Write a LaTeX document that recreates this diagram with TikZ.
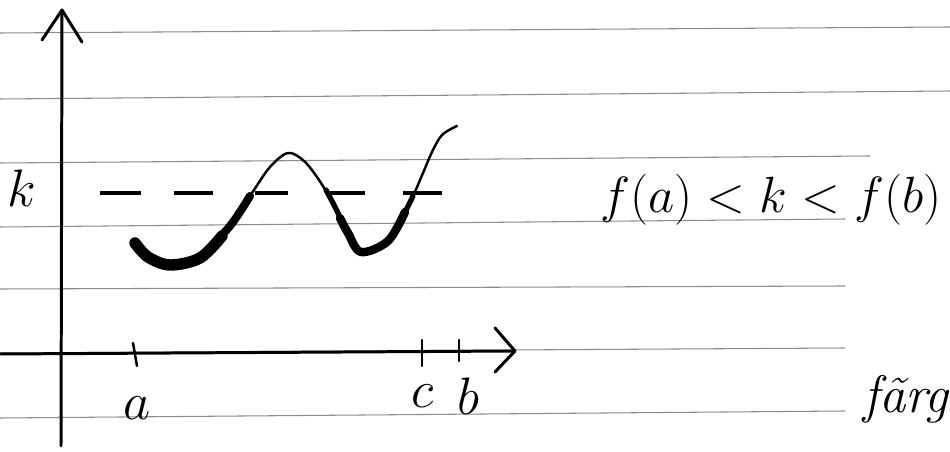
\documentclass[tikz,border=0pt]{standalone}
\usepackage{fix-cm}
\begin{document}
\begin{tikzpicture}[x=0.02cm,y=-0.02cm,
  rule/.style={draw=black!45, line width=0.6pt},
  axisline/.style={line width=1.7pt, line cap=round, line join=round},
  curvethin/.style={line width=1.4pt, line cap=round},
  curvethick/.style={line width=#1, line cap=round},
  dashseg/.style={line width=1.8pt},
  ticksty/.style={line width=1.4pt, line cap=round},
  lbl/.style={font=\fontsize{30}{36}\selectfont, inner sep=0pt, anchor=base},
  formula/.style={font=\fontsize{29}{35}\selectfont, inner sep=0pt, anchor=base}]
\useasboundingbox (0,0) rectangle (950,452);
\fill[white] (0,0) rectangle (950,452);
% ruled lines of the paper
\draw[rule] (0,33) -- (950,27);
\draw[rule] (0,99) -- (950,91);
\draw[rule] (0,163) -- (870,156);
\draw[rule] (0,227) -- (845,219);
\draw[rule] (0,289) -- (845,286);
\draw[rule] (0,353) -- (845,348);
\draw[rule] (0,418) -- (845,411);
% axes
\coordinate (yb) at (61,446);
\coordinate (yt) at (62,10);
\coordinate (xl) at (0,354);
\coordinate (xr) at (515,351);
\draw[axisline] (yb) -- (yt);
\draw[axisline] (42,40) -- (yt) -- (82,42);
\draw[axisline] (xl) -- (xr);
\draw[axisline] (495,328) -- (xr) -- (495,372);
% ticks
\draw[ticksty] (133,343) -- (137,366);
\draw[ticksty] (422,340) -- (422,366);
\draw[ticksty] (459,340) -- (459,361);
% dashed level k
\draw[dashseg] (100,193) -- (141,193);
\draw[dashseg] (174,193) -- (213,193);
\draw[dashseg] (255,193) -- (288,193);
\draw[dashseg] (330,193) -- (365,193);
\draw[dashseg] (403,193) -- (442,193);
% the curve
\draw[curvethin] plot[smooth, tension=0.55] coordinates {(133,240) (148,257) (170,265) (200,258) (230,226) (252,193) (270,167) (288,153) (304,161) (319,180) (334,205) (348,233) (361,252) (388,241) (411,200) (423,173) (432,152) (442,135) (457,126)};
\draw[curvethick=6.5pt] plot[smooth, tension=0.55] coordinates {(135,243) (148,257) (170,265) (200,258) (222,236)};
\draw[curvethick=4.6pt] plot[smooth, tension=0.55] coordinates {(200,258) (230,226) (250,196)};
\draw[curvethick=3pt] plot[smooth, tension=0.55] coordinates {(326,190) (334,205) (348,233)};
\draw[curvethick=4.8pt] plot[smooth, tension=0.55] coordinates {(340,218) (348,233) (361,252) (388,241) (405,212)};
\draw[curvethick=3pt] plot[smooth, tension=0.55] coordinates {(388,241) (405,212) (413,196)};
% labels
\node[lbl] (k) at (22,207) {$k$};
\node[lbl] (a) at (137,419) {$a$};
\node[lbl] (c) at (423,408) {$c$};
\node[lbl] (b) at (468,415) {$b$};
\node[formula] (ineq) at (771,213) {$f(a)<k<f(b)$};
\node[lbl] (farg) at (906,413) {\itshape fãrg};
\end{tikzpicture}
\end{document}
